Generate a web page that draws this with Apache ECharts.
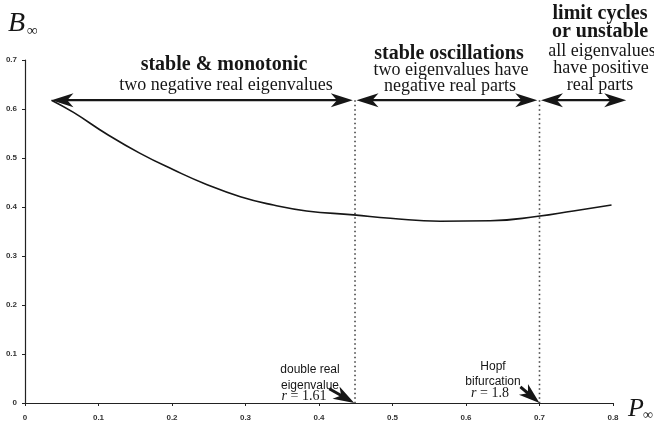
<!DOCTYPE html>
<html>
<head>
<meta charset="utf-8">
<script src="https://cdn.jsdelivr.net/npm/echarts@6/dist/echarts.min.js"></script>
<style>
html,body{margin:0;padding:0;background:#fff;}
#chart{width:654px;height:426px;}
</style>
</head>
<body>
<div id="chart"></div>
<script>
// ---- data ----
const xTicks = [0, 0.1, 0.2, 0.3, 0.4, 0.5, 0.6, 0.7, 0.8];
const yTicks = [0, 0.1, 0.2, 0.3, 0.4, 0.5, 0.6, 0.7];
const curveP = [0.036, 0.066, 0.111, 0.156, 0.202, 0.247, 0.293, 0.338, 0.383, 0.447, 0.497, 0.565, 0.633, 0.698, 0.746, 0.798];
const curveB = [0.618, 0.593, 0.549, 0.510, 0.476, 0.446, 0.421, 0.404, 0.392, 0.384, 0.377, 0.371, 0.372, 0.381, 0.392, 0.404];
const regionStart = [0.036, 0.451, 0.702];
const regionEnd = [0.446, 0.697, 0.818];
const regionLevel = 0.618;
const dividerP = [0.449, 0.700];
const pointerStartP = [0.414, 0.674];
const pointerStartB = [0.029, 0.033];
const pointerEndP = [0.448, 0.700];
const pointerEndB = [0, 0];

const chart = echarts.init(document.getElementById('chart'));
const INK = '#161616';

function head(tip, ux, uy, L, W) {
  const nx = -uy, ny = ux;
  return [
    [tip[0], tip[1]],
    [tip[0] - L*ux + W*nx, tip[1] - L*uy + W*ny],
    [tip[0] - 0.72*L*ux, tip[1] - 0.72*L*uy],
    [tip[0] - L*ux - W*nx, tip[1] - L*uy - W*ny]
  ];
}

const regionData = regionStart.map((s, i) => [s, regionEnd[i], regionLevel]);
const dividerData = dividerP.map(p => [p, regionLevel]);
const pointerData = pointerStartP.map((p, i) => [p, pointerStartB[i], pointerEndP[i], pointerEndB[i]]);

const serif = '"Liberation Serif", "DejaVu Serif", serif';
const sans = '"Liberation Sans", Arial, sans-serif';

function txt(x, y, text, size, bold) {
  return {
    type: 'text', x: x, y: y,
    style: {
      text: text, fill: INK,
      font: (bold ? 'bold ' : '') + size + 'px ' + serif,
      textAlign: 'center', textVerticalAlign: 'middle'
    }
  };
}

const option = {
  backgroundColor: '#fff',
  animation: false,
  grid: { left: 25, right: 41, top: 60, bottom: 23, containLabel: false },
  xAxis: {
    type: 'value', min: 0, max: 0.8, interval: 0.1,
    axisLine: { lineStyle: { color: '#222', width: 1.2 } },
    axisTick: { show: true, length: 3, lineStyle: { color: '#222' } },
    splitLine: { show: false },
    axisLabel: { fontSize: 8, fontWeight: 'bold', fontFamily: sans, color: '#333', margin: 11,
      formatter: v => String(Math.round(v*10)/10) }
  },
  yAxis: {
    type: 'value', min: 0, max: 0.7, interval: 0.1,
    axisLine: { show: true, lineStyle: { color: '#222', width: 1.2 } },
    axisTick: { show: true, length: 3, lineStyle: { color: '#222' } },
    splitLine: { show: false },
    axisLabel: { fontSize: 8, fontWeight: 'bold', fontFamily: sans, color: '#333', margin: 8,
      formatter: v => String(Math.round(v*10)/10) }
  },
  series: [
    {
      type: 'line',
      data: curveP.map((p, i) => [p, curveB[i]]),
      smooth: true, showSymbol: false,
      lineStyle: { color: INK, width: 1.6 },
      z: 3
    },
    {
      type: 'custom',
      data: dividerData,
      clip: false,
      renderItem: function (params, api) {
        const top = api.coord([api.value(0), api.value(1)]);
        const bot = api.coord([api.value(0), 0]);
        return {
          type: 'line',
          shape: { x1: top[0], y1: top[1], x2: bot[0], y2: bot[1] },
          style: { stroke: '#444', lineWidth: 1.6, lineDash: [1.5, 3] }
        };
      },
      z: 2
    },
    {
      type: 'custom',
      data: regionData,
      clip: false,
      renderItem: function (params, api) {
        const a = api.coord([api.value(0), api.value(2)]);
        const b = api.coord([api.value(1), api.value(2)]);
        const L = 22, W = 7;
        return {
          type: 'group',
          children: [
            { type: 'line', shape: { x1: a[0] + 12, y1: a[1], x2: b[0] - 12, y2: b[1] },
              style: { stroke: INK, lineWidth: 2.2 } },
            { type: 'polygon', shape: { points: head(a, -1, 0, L, W) }, style: { fill: INK } },
            { type: 'polygon', shape: { points: head(b, 1, 0, L, W) }, style: { fill: INK } }
          ]
        };
      },
      z: 4
    },
    {
      type: 'custom',
      data: pointerData,
      clip: false,
      renderItem: function (params, api) {
        const a = api.coord([api.value(0), api.value(1)]);
        const b = api.coord([api.value(2), api.value(3)]);
        const dx = b[0] - a[0], dy = b[1] - a[1];
        const len = Math.sqrt(dx*dx + dy*dy);
        const ux = dx/len, uy = dy/len;
        return {
          type: 'group',
          children: [
            { type: 'line', shape: { x1: a[0], y1: a[1], x2: b[0] - 12*ux, y2: b[1] - 12*uy },
              style: { stroke: INK, lineWidth: 3 } },
            { type: 'polygon', shape: { points: head(b, ux, uy, 21, 7) }, style: { fill: INK } }
          ]
        };
      },
      z: 5
    }
  ],
  graphic: [
    // axis names
    { type: 'text', x: 8, y: 24, style: { text: 'B', font: 'italic 28px ' + serif, fill: INK, textVerticalAlign: 'middle' } },
    { type: 'text', x: 27, y: 31, style: { text: '∞', font: '15px ' + serif, fill: INK, textVerticalAlign: 'middle' } },
    { type: 'text', x: 628, y: 409, style: { text: 'P', font: 'italic 26px ' + serif, fill: INK, textVerticalAlign: 'middle' } },
    { type: 'text', x: 643, y: 415, style: { text: '∞', font: '14px ' + serif, fill: INK, textVerticalAlign: 'middle' } },
    // region labels
    txt(224, 65, 'stable & monotonic', 20, true),
    txt(226, 85, 'two negative real eigenvalues', 18, false),
    txt(449, 54, 'stable oscillations', 20, true),
    txt(451, 70, 'two eigenvalues have', 18, false),
    txt(450, 86, 'negative real parts', 18, false),
    txt(600, 14, 'limit cycles', 20, true),
    txt(600, 32, 'or unstable', 20, true),
    txt(602, 51, 'all eigenvalues', 18, false),
    txt(601, 68, 'have positive', 18, false),
    txt(600, 85, 'real parts', 18, false),
    // bottom annotations
    { type: 'text', x: 310, y: 370, style: { text: 'double real', font: '12px ' + sans, fill: INK, textAlign: 'center', textVerticalAlign: 'middle' } },
    { type: 'text', x: 310, y: 386, style: { text: 'eigenvalue', font: '12px ' + sans, fill: INK, textAlign: 'center', textVerticalAlign: 'middle' } },
    { type: 'text', x: 304, y: 396, style: { text: '{i|r} = 1.61', fill: INK, textAlign: 'center', textVerticalAlign: 'middle', font: '14px ' + serif,
      rich: { i: { fontStyle: 'italic', fontFamily: serif, fontSize: 14 } } } },
    { type: 'text', x: 493, y: 367, style: { text: 'Hopf', font: '12px ' + sans, fill: INK, textAlign: 'center', textVerticalAlign: 'middle' } },
    { type: 'text', x: 493, y: 382, style: { text: 'bifurcation', font: '12px ' + sans, fill: INK, textAlign: 'center', textVerticalAlign: 'middle' } },
    { type: 'text', x: 490, y: 393, style: { text: '{i|r} = 1.8', fill: INK, textAlign: 'center', textVerticalAlign: 'middle', font: '14px ' + serif,
      rich: { i: { fontStyle: 'italic', fontFamily: serif, fontSize: 14 } } } }
  ]
};
chart.setOption(option);
</script>
</body>
</html>
